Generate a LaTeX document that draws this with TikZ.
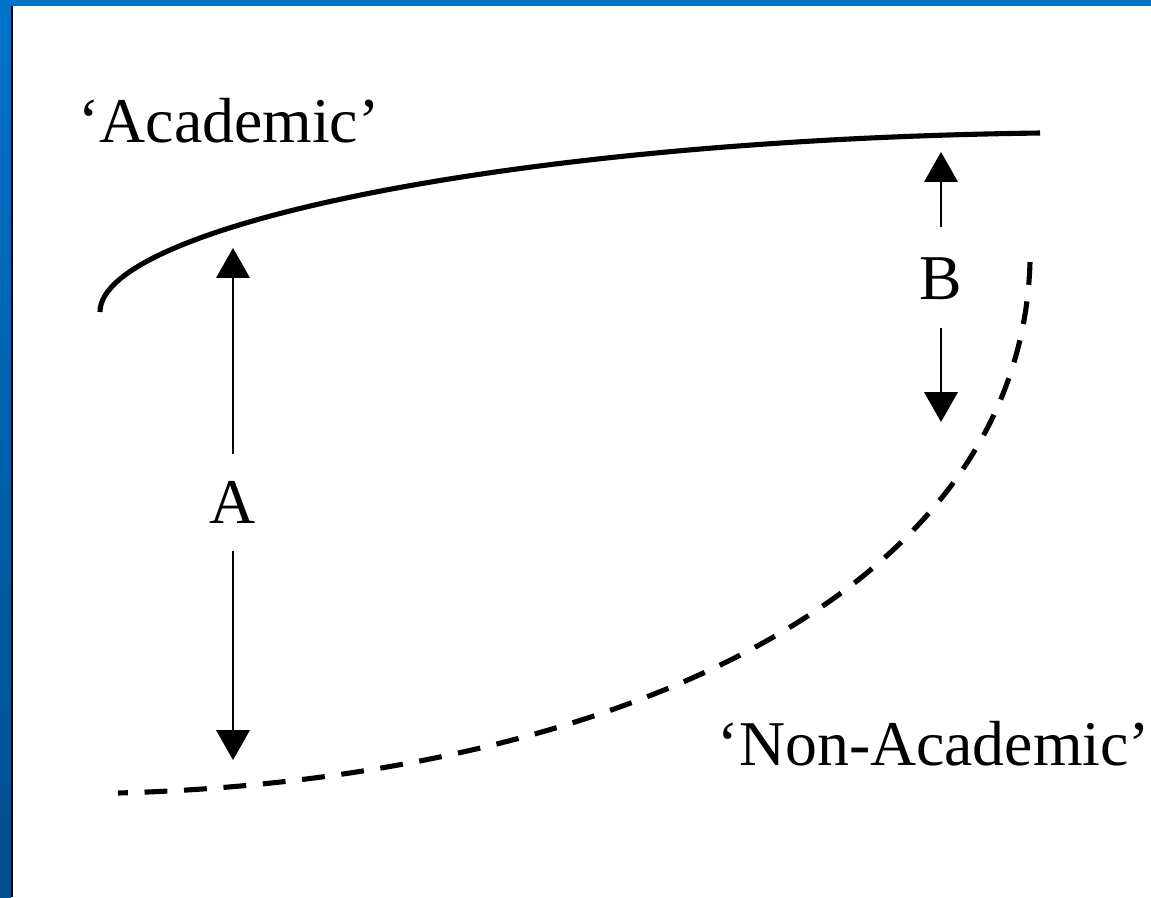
\documentclass[tikz,border=0pt]{standalone}
\usepackage{fontspec}
\setmainfont{Liberation Serif}
\usetikzlibrary{arrows.meta}
\definecolor{frametop}{RGB}{0,114,204}
\definecolor{framebot}{RGB}{0,78,140}

\begin{document}
\begin{tikzpicture}[x=0.02cm,y=-0.02cm,
		lbl/.style={font=\fontsize{36.3}{40}\selectfont,inner sep=0pt,anchor=base},
		gap/.style={-{Triangle[width=19pt,length=17pt]},line width=1.2pt},
		edge/.style={line width=2.9pt}]
				\useasboundingbox (0,0) rectangle (1151,897);
				% blue frame at top and left
				\fill[frametop] (0,0) rectangle (1151,6);
				\shade[top color=frametop,bottom color=framebot] (0,6) rectangle (11,897);
				\draw[line width=1.2pt] (12,6) -- (12,897);
				% the two boundaries
				\node[lbl] (acad) at (229,142) {‘Academic’};
				\node[lbl] (nonacad) at (934,765) {‘Non-Academic’};
				\draw[edge] (100,312) .. controls (100,228) and (500,140) .. (1040,133);
				\draw[edge,dash pattern=on 13pt off 9.5pt] (1030,262) .. controls (1020,600) and (600,780) .. (118,793);
				% gaps A and B
				\node[lbl] (A) at (233,523) {A};
				\coordinate (Atop) at (233,248);
				\coordinate (Abot) at (233,760);
				\draw[gap,shorten <=15pt] (A.north) -- (Atop);
				\draw[gap,shorten <=16pt] (A.south) -- (Abot);
				\node[lbl] (B) at (941,299) {B};
				\coordinate (Btop) at (941,152);
				\coordinate (Bbot) at (941,422);
				\draw[gap,shorten <=17pt] (B.north) -- (Btop);
				\draw[gap,shorten <=16pt] (B.south) -- (Bbot);
\end{tikzpicture}
\end{document}
